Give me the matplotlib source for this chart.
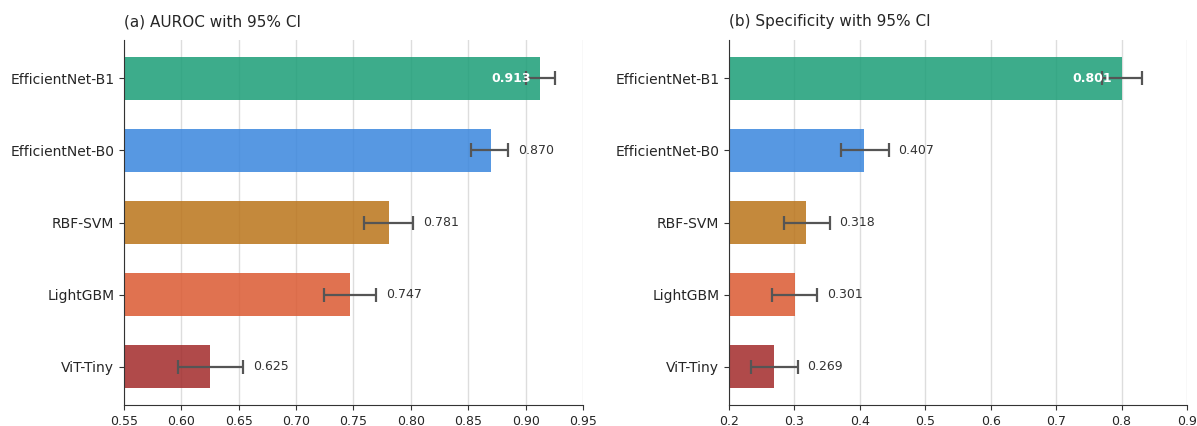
import numpy as np
import matplotlib.pyplot as plt

plt.rcParams['text.color'] = '#262626'
plt.rcParams['xtick.color'] = '#333333'
plt.rcParams['ytick.color'] = '#333333'
plt.rcParams['xtick.labelcolor'] = '#262626'
plt.rcParams['ytick.labelcolor'] = '#262626'
plt.rcParams['axes.edgecolor'] = '#333333'

models = ['EfficientNet-B1', 'EfficientNet-B0', 'RBF-SVM', 'LightGBM', 'ViT-Tiny']
colors = ['#1b9e77', '#3a86dd', '#ba741a', '#db5931', '#a22a2a']

auroc = [0.913, 0.870, 0.781, 0.747, 0.625]
auroc_lo = [0.900, 0.852, 0.759, 0.724, 0.597]
auroc_hi = [0.926, 0.885, 0.802, 0.770, 0.654]

spec = [0.801, 0.407, 0.318, 0.301, 0.269]
spec_lo = [0.770, 0.371, 0.284, 0.266, 0.233]
spec_hi = [0.832, 0.444, 0.354, 0.335, 0.305]

fig = plt.figure(figsize=(11.97, 4.26), dpi=100)
ax1 = fig.add_axes([0.1036, 0.0493, 0.3834, 0.8567])
ax2 = fig.add_axes([0.609, 0.0493, 0.3826, 0.8567])


def draw_panel(ax, vals, lo, hi, xlim, xticks, title):
    y = np.arange(len(models))
    vals = np.array(vals)
    err = [vals - np.array(lo), np.array(hi) - vals]
    ax.barh(y, vals - xlim[0], left=xlim[0], height=0.6,
            color=colors, alpha=0.85, zorder=2)
    ax.errorbar(vals, y, xerr=err, fmt='none', ecolor='#555555',
                elinewidth=1.6, capsize=5, capthick=1.6, zorder=3)
    for i in range(len(models)):
        if i == 0:
            ax.annotate('%.3f' % vals[i], (vals[i], y[i]), xytext=(-7, 0),
                        textcoords='offset points', ha='right', va='center',
                        color='white', fontweight='bold', fontsize=9, zorder=4)
        else:
            ax.annotate('%.3f' % vals[i], (hi[i], y[i]), xytext=(7, 0),
                        textcoords='offset points', ha='left', va='center',
                        color='#333333', fontsize=9, zorder=4)
    ax.set_yticks(y)
    ax.set_yticklabels(models, fontsize=10)
    ax.invert_yaxis()
    ax.set_xlim(xlim)
    ax.set_xticks(xticks)
    ax.tick_params(axis='x', labelsize=9)
    ax.grid(True, axis='x', color='#dddddd', linewidth=1, zorder=0)
    ax.set_axisbelow(True)
    ax.spines['top'].set_visible(False)
    ax.spines['right'].set_visible(False)
    ax.set_title(title, loc='left', fontsize=11, pad=10)


draw_panel(ax1, auroc, auroc_lo, auroc_hi, (0.55, 0.95),
           [0.55, 0.60, 0.65, 0.70, 0.75, 0.80, 0.85, 0.90, 0.95],
           '(a) AUROC with 95% CI')
ax1.set_xticklabels(['0.55', '0.60', '0.65', '0.70', '0.75', '0.80', '0.85', '0.90', '0.95'])
draw_panel(ax2, spec, spec_lo, spec_hi, (0.2, 0.9),
           [0.2, 0.3, 0.4, 0.5, 0.6, 0.7, 0.8, 0.9],
           '(b) Specificity with 95% CI')

fig.savefig('out.png', dpi=100)
